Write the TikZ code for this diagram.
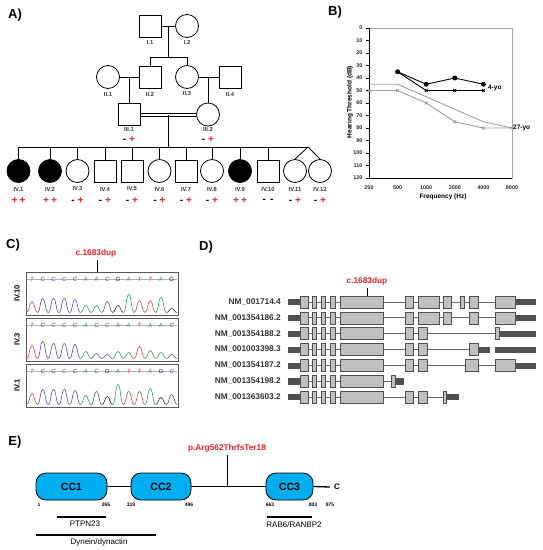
\documentclass[tikz,border=0pt]{standalone}
\usepackage{fontspec}
\setmainfont{Liberation Sans}
\definecolor{pr}{RGB}{222,35,45}
\definecolor{colT}{RGB}{215,60,60}
\definecolor{colC}{RGB}{70,70,170}
\definecolor{colA}{RGB}{40,150,80}
\definecolor{colG}{RGB}{30,30,30}
\definecolor{ccblue}{RGB}{0,174,239}
\definecolor{exfill}{RGB}{192,192,192}
\definecolor{exdark}{RGB}{80,80,80}
\newcommand\gMP{-\hspace{3pt}\textcolor{pr}{+}}
\newcommand\gPP{\textcolor{pr}{+}\hspace{2pt}\textcolor{pr}{+}}
\newcommand\gMM{-\hspace{4pt}-}
\newcommand\dEx[3]{\draw[exonbox] (#1,#3-6) rectangle (#2,#3+6);}
\newcommand\dUtr[3]{\draw[utrbox] (#1,#3-2.6) rectangle (#2,#3+2.6);}
\newcommand\dIn[3]{\draw[intronline] (#1,#3) -- (#2,#3);}
\newcommand\dFront[1]{\dUtr{288}{300}{#1}\dEx{300}{308.3}{#1}\dEx{312.3}{316.3}{#1}\dEx{321.3}{325.3}{#1}\dEx{330.3}{335.3}{#1}\dEx{340}{383.3}{#1}}
\newcommand\chromo[4]{%
  \draw[gray!70!black, line width=0.7pt] (26,#1) rectangle (178,#1+43);
  \draw[gray!60, line width=0.4pt] (27,#1+7.5) -- (177,#1+7.5);
  \node[rotate=90, font=\bfseries\fontsize{7.5}{8}\selectfont] (#4) at (17,#1+21.5) {#2};
  \foreach \L/\h [count=\i from 0] in {#3} {
    \pgfmathsetmacro\xc{32+10.75*\i}
    \pgfmathsetmacro\bb{#1+40.5}
    \pgfmathsetmacro\tp{\bb-\h}
    \draw[col\L, line width=0.55pt] (\xc-5.4,\bb) .. controls (\xc-2.6,\bb) and (\xc-2.6,\tp) .. (\xc,\tp) .. controls (\xc+2.6,\tp) and (\xc+2.6,\bb) .. (\xc+5.4,\bb);
    \node[font=\itshape\fontsize{6}{6}\selectfont, text=col\L, inner sep=0pt] (#4b\i) at (\xc,#1+7) {\L};
  }}
\begin{document}
\begin{tikzpicture}[x=1pt,y=-1pt,
  male/.style={draw, rectangle, minimum size=22pt, inner sep=0pt, line width=0.8pt, fill=white},
  female/.style={draw, circle, minimum size=23pt, inner sep=0pt, line width=0.8pt, fill=white},
  faff/.style={female, fill=black},
  pid/.style={font=\bfseries\fontsize{5.8}{6}\selectfont, text=black!80, inner sep=0pt},
  geno/.style={font=\bfseries\fontsize{10}{10}\selectfont, inner sep=0pt},
  pl/.style={line width=0.8pt},
  panel/.style={font=\bfseries\fontsize{13}{13}\selectfont, inner sep=0pt},
  tick/.style={font=\bfseries\fontsize{5.4}{5.4}\selectfont, inner sep=0pt, text=black!85},
  axt/.style={font=\bfseries\fontsize{6.5}{7}\selectfont, inner sep=0pt},
  exonbox/.style={draw=exdark, fill=exfill, line width=0.6pt},
  utrbox/.style={draw=exdark, fill=exdark, line width=0.4pt},
  intronline/.style={draw=gray!80!black, line width=0.7pt},
  nmlab/.style={font=\bfseries\fontsize{8.3}{9}\selectfont, text=black!80, anchor=east, inner sep=0pt},
  mut/.style={font=\bfseries\fontsize{8.3}{9}\selectfont, text=pr, inner sep=0pt},
  cc/.style={draw, fill=ccblue, rounded corners=10pt, line width=0.8pt, minimum height=27pt, inner sep=0pt, font=\bfseries\fontsize{10.5}{11}\selectfont},
  anum/.style={font=\bfseries\fontsize{5}{5}\selectfont, inner sep=0pt},
  dom/.style={font=\fontsize{8}{9}\selectfont, inner sep=0pt},
  bb/.style={line width=1.3pt}]
\useasboundingbox (0,0) rectangle (543,550);

% ---------------- Panel labels
\node[panel] (pa) at (15,15) {A)};
\node[panel] (pb) at (335,12) {B)};
\node[panel] (pc) at (13,245) {C)};
\node[panel] (pd) at (206,247) {D)};
\node[panel] (pe) at (15,442) {E)};

% ---------------- Pedigree
\node[male] (i1) at (150,26) {};
\node[female] (i2) at (187,26) {};
\node[pid] (li1) at (150,42) {I.1};
\node[pid] (li2) at (187,42) {I.2};
\node[female] (ii1) at (108,77) {};
\node[male] (ii2) at (150,77) {};
\node[female] (ii3) at (187,77) {};
\node[male] (ii4) at (230,77) {};
\node[pid] (lii1) at (108,94) {II.1};
\node[pid] (lii2) at (150,94) {II.2};
\node[pid] (lii3) at (187,94) {II.3};
\node[pid] (lii4) at (230,94) {II.4};
\node[male] (iii1) at (129,114.5) {};
\node[female] (iii2) at (208,114.5) {};
\node[pid] (liii1) at (129,129) {III.1};
\node[pid] (liii2) at (208,129) {III.2};
\node[geno] (giii1) at (129,140) {\gMP};
\node[geno] (giii2) at (208,140) {\gMP};

\coordinate (m1) at (168.5,26);
\coordinate (s1) at (168.5,57);
\draw[pl] (i1.east) -- (i2.west);
\draw[pl] (m1) -- (s1);
\draw[pl] (ii2.north |- s1) -- (ii3.north |- s1);
\draw[pl] (ii2.north |- s1) -- (ii2.north);
\draw[pl] (ii3.north |- s1) -- (ii3.north);
\coordinate (m2) at (129,77);
\coordinate (m3) at (208,77);
\draw[pl] (ii1.east) -- (ii2.west);
\draw[pl] (ii3.east) -- (ii4.west);
\draw[pl] (m2) -- (iii1.north);
\draw[pl] (m3) -- (iii2.north);
\draw[pl] ([yshift=1.5pt]iii1.east) -- ([yshift=1.5pt]iii2.west);
\draw[pl] ([yshift=-1.5pt]iii1.east) -- ([yshift=-1.5pt]iii2.west);
\coordinate (m4) at (168.5,114.5);
\coordinate (sibL) at (18.5,147);
\coordinate (sibR) at (308,147);
\draw[pl] (m4) -- (m4 |- sibL);
\draw[pl] (sibL) -- (sibR);

\foreach \sh/\x/\g [count=\k] in {faff/18.5/\gPP, faff/50/\gPP, female/77.5/\gMP, male/105/\gMP, male/132/\gMP, female/159.5/\gMP, male/186/\gMP, female/212/\gMP, faff/240/\gPP, male/268/\gMM, female/295/\gMP, female/320/\gMP} {
  \node[\sh] (iv\k) at (\x,171) {};
  \node[pid] (liv\k) at (\x,189) {IV.\k};
  \node[geno] (giv\k) at (\x,200.5) {\g};
}
\foreach \k in {1,...,10} { \draw[pl] (iv\k.north |- sibL) -- (iv\k.north); }
\draw[pl] (sibR) -- (iv11.north);
\draw[pl] (sibR) -- (iv12.north);

% ---------------- Panel B (audiogram)
\draw[gray!70, line width=0.6pt] (369,28) rectangle (512,178);
\draw[black, line width=0.7pt] (369,28) -- (369,178) -- (512,178);
\foreach \v in {0,10,...,120} {
  \draw[line width=0.5pt] (366,28+1.25*\v) -- (369,28+1.25*\v);
  \node[tick, anchor=east] (yt\v) at (362.5,28+1.25*\v) {\v};
}
\foreach \f/\x in {250/369,500/397.6,1000/426.2,2000/454.8,4000/483.4,8000/512} {
  \node[tick] (xt\f) at (\x,188) {\f};
}
\node[axt] (xlab) at (443,197) {Frequency (Hz)};
\node[axt, rotate=90] (ylab) at (350,102) {Hearing Threshold (dB)};
\draw[gray!75, line width=0.9pt, mark=-, mark size=2pt, mark options={solid}] plot coordinates {(369,84.25) (397.6,84.25) (426.2,96.75) (454.8,109.25) (483.4,121.75) (512,128)};
\draw[gray!75, line width=0.9pt, mark=x, mark size=2pt] plot coordinates {(369,90.5) (397.6,90.5) (426.2,103) (454.8,121.75) (483.4,128) (512,128)};
\draw[black, line width=0.9pt, mark=x, mark size=2pt] plot coordinates {(397.6,71.75) (426.2,90.5) (454.8,90.5) (483.4,90.5)};
\draw[black, line width=0.9pt, mark=*, mark size=2pt] plot coordinates {(397.6,71.75) (426.2,84.25) (454.8,78) (483.4,84.25)};
\node[axt, anchor=west] (yo4) at (488,87.5) {4-yo};
\node[axt, anchor=west] (yo27) at (513,128) {27-yo};

% ---------------- Panel C (chromatograms)
\node[mut] (cmut) at (96,253) {c.1683dup};
\coordinate (cmutend) at (97,272);
\draw[line width=0.7pt] (cmut.south -| cmutend) ++(0,3) -- (cmutend);
\chromo{272}{IV.10}{T/11,C/14,C/14,C/14,C/13,A/7,A/7,C/11,G/7,A/18,T/12,T/12,A/15,G/4}{cIVa}
\chromo{318}{IV.3}{T/13,C/17,C/15,C/15,C/14,A/7,C/5,C/4,A/7,A/6,T/12,A/8,A/6,C/4}{cIVb}
\chromo{364}{IV.1}{T/11,C/15,C/15,C/15,C/14,A/9,C/13,G/8,A/20,T/13,T/13,A/16,G/7,C/10}{cIVc}

% ---------------- Panel D (transcripts)
\node[mut] (dmut) at (367,281) {c.1683dup};
\coordinate (dmutend) at (367,296);
\draw[line width=0.7pt] (dmut.south -| dmutend) ++(0,3) -- (dmutend);
% row 1
\node[nmlab] (r1) at (281,302) {NM\_001714.4};
\dIn{300}{495}{302}\dFront{302}
\dEx{405}{413}{302}\dEx{418}{439}{302}\dEx{443}{451}{302}\dEx{460}{464}{302}\dEx{469}{478}{302}\dEx{495}{515}{302}\dUtr{515}{535}{302}
% row 2
\node[nmlab] (r2) at (281,317.8) {NM\_001354186.2};
\dIn{300}{495}{317.8}\dFront{317.8}
\dEx{405}{413}{317.8}\dEx{418}{439}{317.8}\dEx{443}{451}{317.8}\dEx{469}{478}{317.8}\dEx{495}{515}{317.8}\dUtr{515}{535}{317.8}
% row 3
\node[nmlab] (r3) at (281,333.7) {NM\_001354188.2};
\dIn{300}{495}{333.7}\dFront{333.7}
\dEx{405}{413}{333.7}\dEx{418}{427}{333.7}\dUtr{499}{535}{333.7}\dEx{495}{499}{333.7}
% row 4
\node[nmlab] (r4) at (281,349.5) {NM\_001003398.3};
\dIn{300}{469}{349.5}\dFront{349.5}
\dEx{405}{413}{349.5}\dEx{418}{427}{349.5}\dEx{469}{478}{349.5}\dUtr{478}{489}{349.5}\dUtr{495}{535}{349.5}
% row 5
\node[nmlab] (r5) at (281,365.3) {NM\_001354187.2};
\dIn{300}{495}{365.3}\dFront{365.3}
\dEx{405}{413}{365.3}\dEx{418}{427}{365.3}\dEx{465}{478}{365.3}\dEx{495}{515}{365.3}\dUtr{515}{535}{365.3}
% row 6
\node[nmlab] (r6) at (281,381.2) {NM\_001354198.2};
\dIn{300}{391}{381.2}\dFront{381.2}
\dUtr{395}{403}{381.2}\dEx{391}{395}{381.2}
% row 7
\node[nmlab] (r7) at (281,397) {NM\_001363603.2};
\dIn{300}{443}{397}\dFront{397}
\dEx{405}{413}{397}\dEx{418}{427}{397}\dUtr{446}{458}{397}\dEx{443}{446}{397}

% ---------------- Panel E (protein)
\node[cc, minimum width=71pt] (cc1) at (71.5,486.5) {CC1};
\node[cc, minimum width=60pt] (cc2) at (161,486.5) {CC2};
\node[cc, minimum width=47pt] (cc3) at (289.5,486.5) {CC3};
\node[font=\bfseries\fontsize{8}{8}\selectfont, inner sep=0pt] (cterm) at (337,487) {C};
\draw[bb] (cc1.east) -- (cc2.west);
\draw[bb] (cc2.east) -- (cc3.west);
\draw[bb] (cc3.east) -- ([xshift=-4pt]cterm.west);
\node[mut] (emut) at (227,448) {p.Arg562ThrfsTer18};
\coordinate (emutend) at (227,486.5);
\draw[line width=1pt] (emut.south -| emutend) ++(0,3) -- (emutend);
\node[anum] (n1) at (39,505) {1};
\node[anum] (n265) at (106,505) {265};
\node[anum] (n319) at (131,505) {319};
\node[anum] (n496) at (189,505) {496};
\node[anum] (n663) at (270,505) {663};
\node[anum] (n803) at (313,505) {803};
\node[anum] (n975) at (330,505) {975};
\coordinate (pt1) at (57,517); \coordinate (pt2) at (106,517);
\draw[bb] (pt1) -- (pt2);
\node[dom] (ptl) at (85,524) {PTPN23};
\coordinate (dy1) at (36,535); \coordinate (dy2) at (156,535);
\draw[bb] (dy1) -- (dy2);
\node[dom] (dyl) at (99,542) {Dynein/dynactin};
\coordinate (rb1) at (267,517); \coordinate (rb2) at (312,517);
\draw[bb] (rb1) -- (rb2);
\node[dom] (rbl) at (294,525) {RAB6/RANBP2};
\end{tikzpicture}
\end{document}
